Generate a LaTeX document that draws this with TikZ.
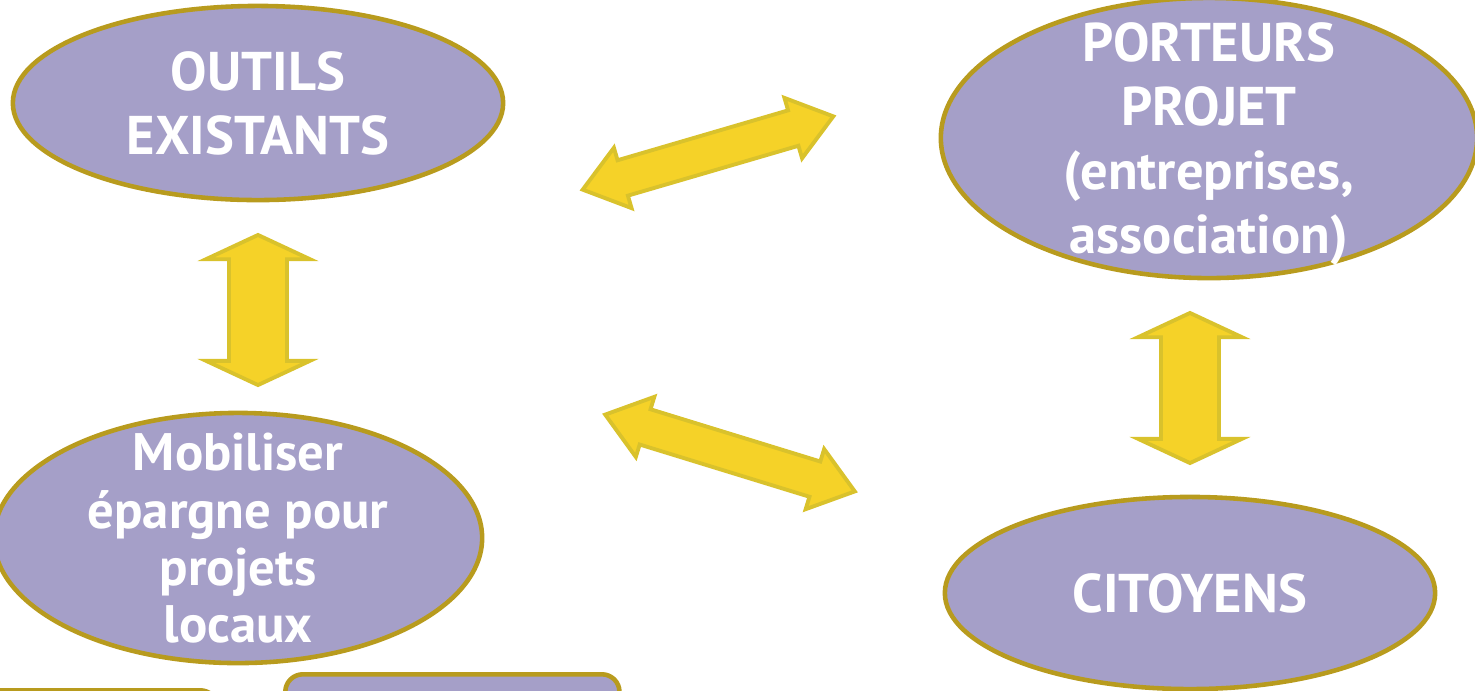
\documentclass[tikz,border=0pt]{standalone}
\usepackage{fontspec}
\setmainfont{PT Sans}
\usetikzlibrary{shapes.geometric,shapes.arrows}
\definecolor{lav}{HTML}{A59FC8}
\definecolor{gold}{HTML}{B89B1E}
\definecolor{yel}{HTML}{F5D228}
\definecolor{yeldark}{HTML}{D9C22C}
\begin{document}
\begin{tikzpicture}[x=0.01cm,y=-0.01cm,
	bulle/.style={ellipse,fill=lav,draw=gold,line width=1.3pt,inner xsep=-1.5cm,inner ysep=-1cm,text depth=0pt,text=white,font=\bfseries\fontsize{15.5}{18.2}\selectfont,align=center},
	boite/.style={rectangle,rounded corners=5pt,fill=lav,draw=gold,line width=1.3pt,inner sep=0pt},
	fleche/.style={double arrow,fill=yel,draw=yeldark,line width=1.1pt,inner xsep=0pt},
	vfleche/.style={fleche,rotate=90,inner ysep=0.27cm,minimum height=1.5cm,double arrow head extend=0.23cm,double arrow tip angle=130},
	dfleche/.style={fleche,inner ysep=0.165cm,minimum height=2.61cm,double arrow head extend=0.13cm,double arrow tip angle=74}]
		\clip (0,0) rectangle (1475,690);
		\useasboundingbox (0,0) rectangle (1475,690);

		\node[bulle,minimum width=4.9cm,minimum height=1.94cm] (e1) at (258,103) {OUTILS\\EXISTANTS};
		\node[bulle,minimum width=5.36cm,minimum height=2.8cm] (e2) at (1209,138) {PORTEURS\\PROJET\\(entreprises,\\association)};
		\node[bulle,minimum width=4.88cm,minimum height=2.5cm,font=\bfseries\fontsize{15}{16.3}\selectfont] (e3) at (238,538) {Mobiliser\\épargne pour\\projets\\locaux};
		\node[bulle,minimum width=4.9cm,minimum height=1.92cm] (e4) at (1190,593) {CITOYENS};

		\node[vfleche] (a1) at (258,310) {};
		\node[vfleche] (a2) at (1190,388) {};
		\node[dfleche,rotate=16.3] (a3) at (708,153) {};
		\node[dfleche,rotate=-17.1] (a4) at (730,453) {};

		\node[boite,minimum width=2.6cm,minimum height=1cm,anchor=north east] (b1) at (220,688) {};
		\node[boite,minimum width=3.34cm,minimum height=1cm,anchor=north west] (b2) at (283,672) {};
\end{tikzpicture}
\end{document}
